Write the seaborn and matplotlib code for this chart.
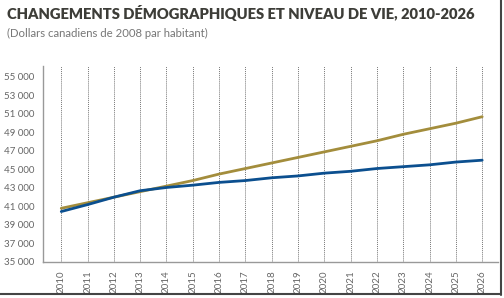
import matplotlib
matplotlib.use("Agg")
import matplotlib.pyplot as plt
import matplotlib.ticker as mticker
import pandas as pd
import seaborn as sns

years = list(range(2010, 2027))
gold_vals = [40800, 41400, 42000, 42600, 43200, 43800, 44500, 45100, 45700,
             46300, 46900, 47500, 48100, 48800, 49400, 50000, 50700]
blue_vals = [40450, 41200, 42000, 42700, 43050, 43300, 43600, 43800, 44100,
             44300, 44600, 44800, 45100, 45300, 45500, 45800, 46000]
series_names = ["Sans changement", "Avec changement"]

df = pd.DataFrame({
    "Année": years * 2,
    "Valeur": gold_vals + blue_vals,
    "Série": [series_names[0]] * len(years) + [series_names[1]] * len(years),
})

sns.set_theme(style="white")
plt.rcParams["font.family"] = ["Lato", "DejaVu Sans"]

fig = plt.figure(figsize=(5.04, 2.98), dpi=100)
ax = fig.add_axes([0.085, 0.121, 0.903, 0.658])

sns.lineplot(data=df, x="Année", y="Valeur", hue="Série",
             palette=["#a38d3c", "#0b4f8f"], linewidth=2.0, legend=False, ax=ax)

ax.set_xlim(2009.3, 2026.6)
ax.set_ylim(35000, 56200)
ax.set_xticks(years)
ax.set_xticklabels([str(y) for y in years], rotation=90, fontsize=7, color="#666666")
ax.set_yticks(range(35000, 56000, 2000))
ax.yaxis.set_major_formatter(mticker.FuncFormatter(lambda v, p: f"{int(v):,}".replace(",", " ")))
ax.tick_params(axis="y", labelsize=7, labelcolor="#666666", length=0, pad=6)
ax.tick_params(axis="x", length=0, pad=6)
ax.set_xlabel("")
ax.set_ylabel("")
ax.xaxis.grid(True, linestyle=(0, (1, 1)), color="#777777", linewidth=0.7)
ax.yaxis.grid(False)
for side in ["top", "right"]:
    ax.spines[side].set_visible(False)
for side in ["left", "bottom"]:
    ax.spines[side].set_color("#999999")
    ax.spines[side].set_linewidth(1)

fig.text(0.014, 0.958, "CHANGEMENTS DÉMOGRAPHIQUES ET NIVEAU DE VIE, 2010-2026",
         fontsize=10.6, fontweight="heavy", color="#3d3d38", va="center")
fig.text(0.014, 0.888, "(Dollars canadiens de 2008 par habitant)",
         fontsize=8.2, color="#777777", va="center")

# screenshot frame shadow on the right and bottom
fig.add_artist(plt.Line2D([0.994, 0.994], [0.01, 1.0], transform=fig.transFigure,
                          color="#444444", linewidth=1.5))
fig.add_artist(plt.Line2D([0.0, 0.994], [0.012, 0.012], transform=fig.transFigure,
                          color="#444444", linewidth=1.5))

fig.savefig("out.png", dpi=100)
